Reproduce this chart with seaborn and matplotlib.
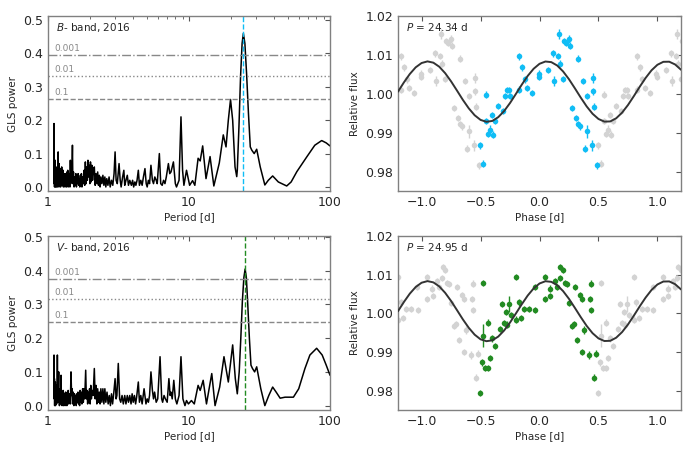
import numpy as np
import seaborn as sns
import matplotlib
matplotlib.use("Agg")
import matplotlib.pyplot as plt
from matplotlib.ticker import FixedLocator, FuncFormatter, LogLocator, NullFormatter

# ---- GLS periodograms (period [d], power) ----
B_PERIOD = [1.100, 1.103, 1.106, 1.109, 1.112, 1.116, 1.12, 1.124, 1.128, 1.132, 1.136, 1.14,
            1.145, 1.15, 1.155, 1.16, 1.165, 1.17, 1.175, 1.18, 1.185, 1.19, 1.195, 1.20, 1.205,
            1.21, 1.216, 1.222, 1.228, 1.235, 1.242, 1.25, 1.257, 1.264, 1.271, 1.278, 1.285,
            1.293, 1.30, 1.31, 1.318, 1.326, 1.334, 1.343, 1.352, 1.361, 1.37, 1.38, 1.39, 1.40,
            1.41, 1.42, 1.43, 1.44, 1.45, 1.46, 1.475, 1.49, 1.50, 1.515, 1.53, 1.545, 1.56,
            1.575, 1.59, 1.605, 1.62, 1.635, 1.65, 1.665, 1.68, 1.695, 1.71, 1.725, 1.74, 1.76,
            1.78, 1.80, 1.82, 1.84, 1.86, 1.88, 1.90, 1.92, 1.94, 1.96, 1.98, 2.00, 2.02, 2.045,
            2.07, 2.1, 2.13, 2.16, 2.19, 2.22, 2.25, 2.28, 2.31, 2.34, 2.37, 2.41, 2.45, 2.49,
            2.53, 2.57, 2.61, 2.66, 2.71, 2.76, 2.82, 2.88, 2.94, 2.99, 3.04, 3.1, 3.19, 3.25,
            3.3, 3.38, 3.45, 3.5, 3.57, 3.65, 3.72, 3.8, 3.9, 3.98, 4.05, 4.13, 4.2, 4.28, 4.37,
            4.45, 4.55, 4.65, 4.75, 4.87, 4.97, 5.05, 5.15, 5.25, 5.37, 5.5, 5.6, 5.72, 5.85,
            5.95, 6.16, 6.3, 6.45, 6.6, 6.75, 6.9, 7.14, 7.3, 7.45, 7.75, 8.0, 8.15, 8.5, 8.77,
            9.0, 9.2, 9.6, 10.1, 10.6, 11.0, 11.6, 12.0, 12.5, 13.2, 14.1, 15.0, 16.4, 17.5,
            18.3, 19.0, 19.7, 20.4, 21.2, 21.8, 22.0, 22.6, 23.2, 23.8, 24.3, 24.9, 25.6, 26.4,
            27.2, 27.9, 29.0, 30.2, 32.0, 34.5, 36.5, 39.2, 43.0, 49.3, 53.0, 58.2, 68.4, 78.0,
            87.3, 94.0, 100.0]
B_POWER = [0.02, 0.19, 0.01, 0.07, 0.0, 0.05, 0.01, 0.08, 0.0, 0.04, 0.02, 0.06,
           0.0, 0.05, 0.01, 0.035, 0.0, 0.06, 0.02, 0.105, 0.01, 0.05, 0.0, 0.07, 0.01,
           0.04, 0.02, 0.055, 0.0, 0.045, 0.01, 0.06, 0.005, 0.03, 0.01, 0.05, 0.0,
           0.04, 0.01, 0.03, 0.0, 0.04, 0.01, 0.03, 0.0, 0.045, 0.01, 0.05, 0.0, 0.035,
           0.01, 0.04, 0.0, 0.08, 0.01, 0.04, 0.02, 0.125, 0.01, 0.045, 0.0, 0.03, 0.005,
           0.04, 0.0, 0.03, 0.01, 0.04, 0.005, 0.025, 0.0, 0.035, 0.01, 0.04, 0.0, 0.03,
           0.01, 0.05, 0.005, 0.075, 0.01, 0.06, 0.02, 0.08, 0.03, 0.065, 0.01, 0.075, 0.015, 0.065,
           0.02, 0.05, 0.06, 0.005, 0.04, 0.01, 0.045, 0.005, 0.035, 0.0, 0.03, 0.01, 0.035, 0.005,
           0.03, 0.0, 0.025, 0.005, 0.03, 0.0, 0.02, 0.005, 0.04, 0.105, 0.02, 0.01, 0.07, 0.02,
           0.0, 0.03, 0.05, 0.005, 0.02, 0.035, 0.005, 0.02, 0.005, 0.02, 0.0, 0.015, 0.005, 0.02, 0.05,
           0.005, 0.02, 0.005, 0.03, 0.055, 0.01, 0.0, 0.02, 0.01, 0.065, 0.02, 0.01, 0.03, 0.02,
           0.01, 0.1, 0.01, 0.005, 0.02, 0.01, 0.03, 0.07, 0.04, 0.045, 0.075, 0.01, 0.0, 0.02, 0.21,
           0.05, 0.005, 0.05, 0.005, 0.019, 0.005, 0.086, 0.078, 0.123, 0.025, 0.091, 0.003, 0.072, 0.156,
           0.12, 0.2, 0.262, 0.2, 0.06, 0.031, 0.05, 0.18, 0.33, 0.43, 0.46, 0.43, 0.34, 0.22,
           0.12, 0.11, 0.1, 0.113, 0.06, 0.006, 0.02, 0.033, 0.015, 0.003, 0.015, 0.046, 0.09, 0.125,
           0.139, 0.132, 0.123]

V_PERIOD = [1.100, 1.103, 1.106, 1.11, 1.114, 1.118, 1.122, 1.126, 1.13, 1.135, 1.14, 1.145,
            1.15, 1.155, 1.16, 1.165, 1.17, 1.175, 1.18, 1.185, 1.19, 1.195, 1.20, 1.205, 1.21,
            1.216, 1.222, 1.23, 1.237, 1.244, 1.251, 1.258, 1.265, 1.272, 1.28, 1.288, 1.296,
            1.304, 1.312, 1.32, 1.33, 1.34, 1.35, 1.36, 1.37, 1.38, 1.39, 1.40, 1.41, 1.42, 1.43,
            1.44, 1.455, 1.47, 1.48, 1.495, 1.51, 1.525, 1.54, 1.555, 1.57, 1.585, 1.60, 1.615,
            1.63, 1.645, 1.66, 1.675, 1.69, 1.705, 1.72, 1.74, 1.76, 1.78, 1.80, 1.82, 1.85, 1.87,
            1.89, 1.91, 1.93, 1.95, 1.97, 1.99, 2.01, 2.03, 2.06, 2.09, 2.13, 2.16, 2.19, 2.22,
            2.25, 2.28, 2.31, 2.34, 2.37, 2.41, 2.45, 2.49, 2.53, 2.57, 2.62, 2.67, 2.72, 2.77,
            2.82, 2.87, 2.93, 2.99, 3.04, 3.08, 3.15, 3.22, 3.28, 3.35, 3.42, 3.5, 3.57, 3.65,
            3.72, 3.8, 3.88, 3.95, 4.02, 4.1, 4.18, 4.25, 4.37, 4.45, 4.55, 4.65, 4.8, 4.95, 5.05,
            5.15, 5.25, 5.37, 5.5, 5.6, 5.7, 5.85, 6.0, 6.23, 6.4, 6.5, 6.65, 6.8, 7.0, 7.2, 7.35,
            7.45, 7.6, 7.8, 8.0, 8.2, 8.5, 8.77, 9.05, 9.36, 9.6, 9.9, 10.4, 10.9, 11.6, 12.0,
            12.6, 13.3, 14.5, 15.3, 16.5, 17.7, 19.0, 20.4, 21.3, 22.0, 22.7, 23.3, 23.9, 24.5,
            25.0, 25.5, 26.1, 26.8, 27.5, 28.2, 29.2, 30.2, 32.3, 34.5, 36.8, 39.2, 41.5, 44.3,
            48.0, 55.0, 60.0, 66.4, 72.0, 80.4, 88.0, 94.0, 100.0]
V_POWER = [0.03, 0.15, 0.02, 0.08, 0.0, 0.06, 0.01, 0.07, 0.0, 0.05, 0.02, 0.06,
           0.005, 0.04, 0.02, 0.15, 0.03, 0.07, 0.01, 0.06, 0.1, 0.01, 0.05, 0.0, 0.04,
           0.01, 0.05, 0.005, 0.09, 0.02, 0.04, 0.0, 0.035, 0.01, 0.045, 0.0, 0.035,
           0.01, 0.03, 0.0, 0.04, 0.01, 0.035, 0.0, 0.04, 0.01, 0.045, 0.005, 0.035, 0.01, 0.03,
           0.005, 0.1, 0.03, 0.05, 0.005, 0.04, 0.0, 0.035, 0.01, 0.03, 0.0, 0.035, 0.01,
           0.04, 0.005, 0.035, 0.0, 0.045, 0.01, 0.04, 0.005, 0.05, 0.01, 0.05, 0.02, 0.105, 0.02,
           0.045, 0.005, 0.04, 0.01, 0.05, 0.005, 0.06, 0.02, 0.045, 0.03, 0.11, 0.02, 0.06, 0.005,
           0.05, 0.01, 0.04, 0.005, 0.05, 0.01, 0.05, 0.005, 0.05, 0.01, 0.04, 0.005, 0.03, 0.0,
           0.035, 0.005, 0.04, 0.08, 0.02, 0.03, 0.125, 0.02, 0.01, 0.03, 0.005, 0.03, 0.005, 0.03,
           0.01, 0.03, 0.005, 0.035, 0.01, 0.03, 0.005, 0.025, 0.07, 0.01, 0.03, 0.005, 0.05, 0.005, 0.02,
           0.01, 0.03, 0.1, 0.045, 0.02, 0.04, 0.01, 0.02, 0.145, 0.02, 0.01, 0.03, 0.02, 0.01, 0.08, 0.03,
           0.04, 0.02, 0.075, 0.02, 0.005, 0.03, 0.145, 0.02, 0.0, 0.015, 0.005, 0.015, 0.005, 0.06, 0.045,
           0.075, 0.005, 0.095, 0.0, 0.055, 0.145, 0.07, 0.18, 0.08, 0.035, 0.1, 0.2, 0.31, 0.38,
           0.405, 0.38, 0.3, 0.2, 0.12, 0.11, 0.1, 0.115, 0.05, 0.0, 0.03, 0.055, 0.04, 0.022,
           0.025, 0.025, 0.05, 0.11, 0.15, 0.17, 0.15, 0.12, 0.09]

B_FAP = [0.395, 0.333, 0.262]
V_FAP = [0.375, 0.315, 0.248]
FAP_LABELS = ["0.001", "0.01", "0.1"]
B_BEST = 24.34
V_BEST = 24.95

# ---- phase-folded photometry ----
B_PHASE = [-0.453, -0.501, -0.476, -0.453, -0.433, -0.419, -0.405, -0.391, -0.374, -0.354, -0.312,
           -0.295, -0.275, -0.258, -0.246, -0.173, -0.147, -0.127, -0.105, -0.173, -0.062, -0.008,
           -0.006, 0.074, 0.113, 0.122, 0.164, 0.159, 0.173, 0.198, 0.207, 0.224, 0.249, 0.258,
           0.278, 0.306, 0.326, 0.346, 0.326, 0.368, 0.399, 0.399, 0.388, 0.445, 0.453, 0.453,
           0.459, 0.487]
B_FLUX = [0.9998, 0.9867, 0.9820, 0.9929, 0.9896, 0.9908, 0.9946, 0.9895, 0.9929, 0.9968, 0.9955,
          0.9994, 1.0009, 1.0009, 0.9994, 1.0097, 1.0068, 1.0037, 1.0015, 1.0011, 1.0002, 1.0052,
          1.0043, 1.0062, 1.0104, 1.0034, 1.0154, 1.0097, 1.0077, 1.0038, 1.0136, 1.0131, 1.0140,
          1.0123, 0.9964, 0.9938, 0.9923, 0.9916, 1.0090, 1.0032, 0.9995, 0.9903, 0.9858, 0.9867,
          1.0041, 1.0006, 0.9966, 0.9816]
B_ERR = [0.0008, 0.0009, 0.0009, 0.0008, 0.0008, 0.0012, 0.0008, 0.0008, 0.0008, 0.0008, 0.0008,
         0.0008, 0.0008, 0.0008, 0.0008, 0.0009, 0.0009, 0.0008, 0.0008, 0.0008, 0.0008, 0.0008,
         0.0008, 0.0008, 0.0009, 0.0013, 0.0012, 0.0008, 0.0009, 0.0008, 0.0008, 0.0008, 0.0010,
         0.0009, 0.0008, 0.0008, 0.0008, 0.0008, 0.0009, 0.0008, 0.0008, 0.0017, 0.0009, 0.0013,
         0.0012, 0.0008, 0.0009, 0.0009]

V_PHASE = [-0.482, -0.476, -0.487, -0.462, -0.439, -0.433, -0.419, -0.402, -0.377, -0.504, -0.337,
           -0.320, -0.297, -0.278, -0.280, -0.258, -0.241, -0.201, -0.201, -0.178, -0.159, -0.133,
           -0.091, -0.034, -0.037, 0.048, 0.048, 0.088, 0.093, 0.130, 0.147, 0.170, 0.178, 0.198,
           0.218, 0.232, 0.249, 0.275, 0.292, 0.297, 0.320, 0.340, 0.363, 0.374, 0.363, 0.419,
           0.431, 0.433, 0.436, 0.459, 0.476]
V_FLUX = [1.0079, 0.9942, 0.9873, 0.9859, 0.9859, 0.9976, 0.9885, 0.9935, 0.9916, 0.9793, 0.9959,
          1.0025, 0.9976, 0.9971, 1.0004, 1.0024, 0.9995, 0.9984, 1.0094, 1.0028, 0.9988, 1.0011,
          1.0011, 1.0008, 1.0068, 1.0094, 1.0038, 1.0064, 1.0045, 1.0083, 1.0068, 1.0092, 1.0120,
          1.0113, 1.0079, 1.0076, 1.0027, 0.9968, 0.9972, 1.0068, 0.9931, 1.0047, 1.0037, 0.9957,
          0.9899, 0.9892, 1.0038, 1.0077, 1.0008, 0.9834, 0.9896]
V_ERR = [0.0008, 0.0030, 0.0008, 0.0008, 0.0008, 0.0010, 0.0008, 0.0008, 0.0008, 0.0008, 0.0008,
         0.0008, 0.0008, 0.0008, 0.0008, 0.0020, 0.0008, 0.0008, 0.0008, 0.0008, 0.0008, 0.0008,
         0.0008, 0.0008, 0.0008, 0.0008, 0.0008, 0.0008, 0.0008, 0.0008, 0.0008, 0.0008, 0.0008,
         0.0008, 0.0008, 0.0008, 0.0008, 0.0008, 0.0008, 0.0008, 0.0008, 0.0008, 0.0008, 0.0010,
         0.0008, 0.0010, 0.0008, 0.0008, 0.0008, 0.0008, 0.0008]

# fitted sinusoid
MODEL_PHASE = [-1.20, -1.15, -1.10, -1.05, -1.00, -0.95, -0.90, -0.85, -0.80, -0.75, -0.70, -0.65,
               -0.60, -0.55, -0.50, -0.45, -0.40, -0.35, -0.30, -0.25, -0.20, -0.15, -0.10, -0.05,
               0.00, 0.05, 0.10, 0.15, 0.20, 0.25, 0.30, 0.35, 0.40, 0.45, 0.50, 0.55, 0.60, 0.65,
               0.70, 0.75, 0.80, 0.85, 0.90, 0.95, 1.00, 1.05, 1.10, 1.15, 1.20]
MODEL_FLUX = [1.00055, 1.00292, 1.00508, 1.00680, 1.00791, 1.00833, 1.00800, 1.00696, 1.00530,
              1.00320, 1.00084, 0.99844, 0.99626, 0.99448, 0.99328, 0.99279, 0.99302, 0.99398,
              0.99556, 0.99762, 0.99997, 1.00236, 1.00460, 1.00643, 1.00771, 1.00830, 1.00814,
              1.00727, 1.00575, 1.00374, 1.00141, 0.99901, 0.99675, 0.99486, 0.99352, 0.99284,
              0.99289, 0.99369, 0.99514, 0.99710, 0.99940, 1.00181, 1.00408, 1.00604, 1.00746,
              1.00822, 1.00825, 1.00754, 1.00618]

B_COLOR = "#10bdf5"
V_COLOR = "#228b22"
GREY = "#d3d3d3"
SPINE = "#808080"


def style_axes(ax):
    for s in ax.spines.values():
        s.set_color(SPINE)
        s.set_linewidth(1.0)
    ax.tick_params(axis="both", which="both", direction="in", top=True, right=True,
                   labelsize=9, color="#555555")
    ax.tick_params(axis="both", which="major", length=3.5)
    ax.tick_params(axis="both", which="minor", length=2)


def plot_gls(ax, period, power, fap, best, color, band, ylim):
    sns.lineplot(x=period, y=power, ax=ax, color="black", lw=1.1, sort=False, estimator=None)
    for level, lab, ls in zip(fap, FAP_LABELS, ["-.", ":", "--"]):
        ax.axhline(level, color="#888888", ls=ls, lw=1.0)
        ax.text(1.11, level + 0.006, lab, color="#888888", fontsize=6.5, va="bottom")
    ax.axvline(best, color=color, ls="--", lw=1.0)
    ax.set_xscale("log")
    ax.set_xlim(1, 100)
    ax.set_ylim(*ylim)
    ax.xaxis.set_major_locator(FixedLocator([1, 10, 100]))
    ax.xaxis.set_major_formatter(FuncFormatter(lambda v, p: f"{v:g}"))
    ax.xaxis.set_minor_locator(LogLocator(base=10, subs=np.arange(2, 10)))
    ax.xaxis.set_minor_formatter(NullFormatter())
    ax.set_yticks([0.0, 0.1, 0.2, 0.3, 0.4, 0.5])
    ax.yaxis.set_major_formatter(FuncFormatter(lambda v, p: f"{v:.1f}"))
    ax.set_xlabel("Period [d]", fontsize=7.5, labelpad=2)
    ax.set_ylabel("GLS power", fontsize=7.5, labelpad=4)
    ax.text(0.03, 0.97, f"$\\it{{{band}}}$- band, 2016", transform=ax.transAxes,
            fontsize=7.5, va="top", ha="left")
    style_axes(ax)


def plot_phase(ax, phase, flux, err, color, label):
    phase = np.asarray(phase)
    flux = np.asarray(flux)
    err = np.asarray(err)
    # grey copies one cycle either side
    for shift in (-1.0, 1.0):
        ax.errorbar(phase + shift, flux, yerr=err, fmt="none", ecolor=GREY, elinewidth=1.0, zorder=1)
        sns.scatterplot(x=phase + shift, y=flux, ax=ax, color=GREY, s=16, linewidth=0, zorder=1)
    ax.errorbar(phase, flux, yerr=err, fmt="none", ecolor=color, elinewidth=1.0, zorder=2)
    sns.scatterplot(x=phase, y=flux, ax=ax, color=color, s=16, linewidth=0, zorder=2)
    sns.lineplot(x=MODEL_PHASE, y=MODEL_FLUX, ax=ax, color="#333333", lw=1.4, sort=False,
                 estimator=None, zorder=3)
    ax.set_xlim(-1.2, 1.2)
    ax.set_ylim(0.975, 1.02)
    ax.set_xticks([-1.0, -0.5, 0.0, 0.5, 1.0])
    ax.set_yticks([0.98, 0.99, 1.00, 1.01, 1.02])
    ax.xaxis.set_major_formatter(FuncFormatter(lambda v, p: f"{v:.1f}".replace("-", "\u2212")))
    ax.yaxis.set_major_formatter(FuncFormatter(lambda v, p: f"{v:.2f}"))
    ax.set_xlabel("Phase [d]", fontsize=7.5, labelpad=2)
    ax.set_ylabel("Relative flux", fontsize=7.5, labelpad=4)
    ax.text(0.03, 0.97, f"$\\it{{P}}$ = {label} d", transform=ax.transAxes,
            fontsize=7.5, va="top", ha="left")
    style_axes(ax)


sns.set_style("white")
plt.rcParams["font.family"] = ["DejaVu Sans"]

fig = plt.figure(figsize=(6.93, 4.5), dpi=100)
ax_b = fig.add_axes([0.0693, 0.5756, 0.4069, 0.3888])
ax_bp = fig.add_axes([0.5743, 0.5756, 0.4084, 0.3888])
ax_v = fig.add_axes([0.0693, 0.0889, 0.4069, 0.3867])
ax_vp = fig.add_axes([0.5743, 0.0889, 0.4084, 0.3867])

plot_gls(ax_b, B_PERIOD, B_POWER, B_FAP, B_BEST, B_COLOR, "B", (-0.012, 0.512))
plot_gls(ax_v, V_PERIOD, V_POWER, V_FAP, V_BEST, V_COLOR, "V", (-0.013, 0.503))
plot_phase(ax_bp, B_PHASE, B_FLUX, B_ERR, B_COLOR, "24.34")
plot_phase(ax_vp, V_PHASE, V_FLUX, V_ERR, V_COLOR, "24.95")

fig.savefig("out.png", dpi=100)
